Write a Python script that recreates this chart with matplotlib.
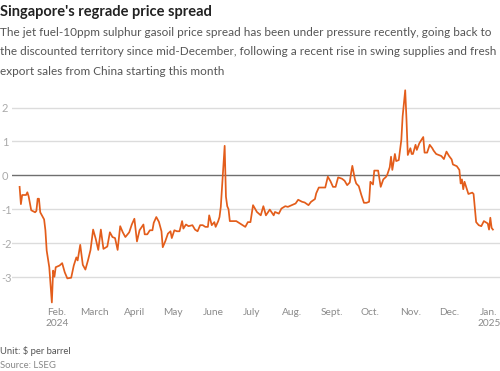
import matplotlib.pyplot as plt
import pandas as pd

# days since 1 Jan 2024
day = [2, 3, 4, 7, 8, 9, 11, 14, 15, 16, 17, 18, 20, 21, 22, 23, 25, 27, 28, 29,
       30, 33, 35, 37, 39, 42, 44, 46, 47, 49, 51, 53, 55, 57, 59, 61, 63, 65, 67, 70,
       72, 74, 76, 78, 80, 82, 84, 87, 89, 91, 93, 95, 98, 99, 101, 103, 105, 106, 108, 110,
       112, 113, 115, 117, 119, 120, 122, 124, 126, 128, 129, 131, 133, 136, 138, 140, 142, 144, 146, 148,
       149, 151, 153, 154, 156, 157, 158, 161, 162, 163, 164, 165, 170, 177, 179, 181, 183, 186, 189, 191,
       193, 196, 199, 200, 203, 205, 208, 210, 213, 216, 218, 221, 223, 226, 228, 231, 232, 234, 236, 239,
       241, 243, 245, 247, 249, 252, 254, 256, 258, 259, 260, 262, 263, 265, 267, 269, 271, 273, 274, 276,
       277, 280, 282, 284, 286, 287, 289, 290, 291, 293, 294, 296, 298, 299, 301, 302, 303, 305, 306, 307,
       309, 310, 312, 315, 316, 318, 320, 322, 323, 325, 327, 329, 331, 333, 335, 337, 338, 341, 343, 344,
       345, 346, 347, 350, 353, 354, 356, 358, 360, 362, 365, 366, 367, 368, 369]
spread = [-0.34, -0.85, -0.58, -0.58, -0.5, -0.62, -1.03, -1.09, -1.05, -0.69, -0.69, -1.09, -1.23, -1.3, -1.62, -2.22, -2.71, -3.75, -2.81, -2.99,
          -2.71, -2.66, -2.59, -2.86, -3.04, -3.02, -2.66, -2.42, -2.51, -2.05, -2.64, -2.78, -2.51, -2.2, -1.6, -1.87, -2.2, -1.6, -2.17, -2.1,
          -1.68, -1.82, -1.85, -2.2, -1.5, -1.68, -1.82, -1.68, -1.45, -1.28, -1.95, -1.62, -1.45, -1.74, -1.74, -1.62, -1.62, -1.4, -1.23, -1.37,
          -1.65, -2.12, -1.94, -1.72, -1.65, -1.85, -1.62, -1.65, -1.65, -1.35, -1.57, -1.45, -1.5, -1.47, -1.6, -1.65, -1.47, -1.47, -1.52, -1.52,
          -1.18, -1.47, -1.38, -1.52, -1.35, -1.23, -0.93, 0.87, -0.63, -0.91, -1.0, -1.35, -1.35, -1.52, -1.38, -1.38, -0.88, -1.08, -1.18, -0.91,
          -1.18, -1.01, -1.18, -1.08, -1.13, -0.98, -0.91, -0.93, -0.88, -0.83, -0.72, -0.78, -0.8, -0.88, -0.78, -0.7, -0.53, -0.36, -0.36, -0.36,
          -0.04, -0.17, -0.34, -0.34, -0.06, -0.1, -0.16, -0.29, -0.21, 0.06, 0.28, -0.12, -0.24, -0.32, -0.58, -0.81, -0.81, -0.78, -0.19, -0.27,
          0.14, 0.14, -0.34, -0.12, -0.05, 0.01, 0.24, 0.55, 0.16, 0.63, 0.42, 0.45, 1.05, 1.74, 2.51, 1.64, 0.6, 0.8, 0.63, 0.63,
          0.9, 0.75, 0.95, 1.13, 0.67, 0.67, 0.9, 0.8, 0.73, 0.63, 0.6, 0.57, 0.48, 0.7, 0.57, 0.47, 0.32, 0.27, 0.16, -0.24,
          -0.12, -0.41, -0.19, -0.55, -0.51, -0.55, -1.38, -1.47, -1.5, -1.35, -1.42, -1.6, -1.25, -1.55, -1.6]

month_starts = ["2024-02-01", "2024-03-01", "2024-04-01", "2024-05-01", "2024-06-01", "2024-07-01",
                "2024-08-01", "2024-09-01", "2024-10-01", "2024-11-01", "2024-12-01", "2025-01-01"]
month_labels = ["Feb.\n2024", "March", "April", "May", "June", "July",
                "Aug.", "Sept.", "Oct.", "Nov.", "Dec.", "Jan.\n2025"]
y_ticks = [2, 1, 0, -1, -2, -3]

plt.rcParams['font.family'] = ['Lato', 'DejaVu Sans']

dates = pd.Timestamp("2024-01-01") + pd.to_timedelta(day, unit="D")
start = pd.Timestamp("2024-01-01")

fig = plt.figure(figsize=(5, 3.71), dpi=100)
ax = fig.add_axes([0.024, 0.171, 0.976, 0.594])

for t in y_ticks:
    if t == 0:
        ax.axhline(t, color='#6f6f6f', lw=1.0, zorder=1)
    else:
        ax.axhline(t, color='#dcdcdc', lw=1.0, zorder=0)

ax.plot(dates, spread, color='#e35d1b', lw=1.25, zorder=3)

ax.set_xlim(start - pd.Timedelta(days=3.9), start + pd.Timedelta(days=374.5))
ax.set_ylim(-3.9, 2.6)

ax.set_yticks(y_ticks)
ax.set_yticklabels([str(t) if t >= 0 else '-' + str(-t) for t in y_ticks])
ax.set_xticks(pd.to_datetime(month_starts))
ax.set_xticklabels(month_labels)
ax.tick_params(axis='y', length=0, pad=7.5, labelsize=8, labelcolor='#aaaaaa')
ax.tick_params(axis='x', length=0, pad=0.5, labelsize=7.3, labelcolor='#8a8a8a')
for lab in ax.get_yticklabels():
    lab.set_horizontalalignment('left')
for s in ax.spines.values():
    s.set_visible(False)

fig.text(0.0, 0.967, "Singapore's regrade price spread", fontsize=10.5, fontweight='bold',
         color='#222222', va='center')
fig.text(0.0, 0.913, "The jet fuel-10ppm sulphur gasoil price spread has been under pressure recently, going back to",
         fontsize=8.45, color='#555555', va='center')
fig.text(0.0, 0.860, "the discounted territory since mid-December, following a recent rise in swing supplies and fresh",
         fontsize=8.45, color='#555555', va='center')
fig.text(0.0, 0.808, "export sales from China starting this month",
         fontsize=8.45, color='#555555', va='center')
fig.text(0.0, 0.055, "Unit: $ per barrel", fontsize=6.8, color='#555555', va='center')
fig.text(0.0, 0.016, "Source: LSEG", fontsize=6.8, color='#888888', va='center')

fig.savefig("out.png", dpi=100)
